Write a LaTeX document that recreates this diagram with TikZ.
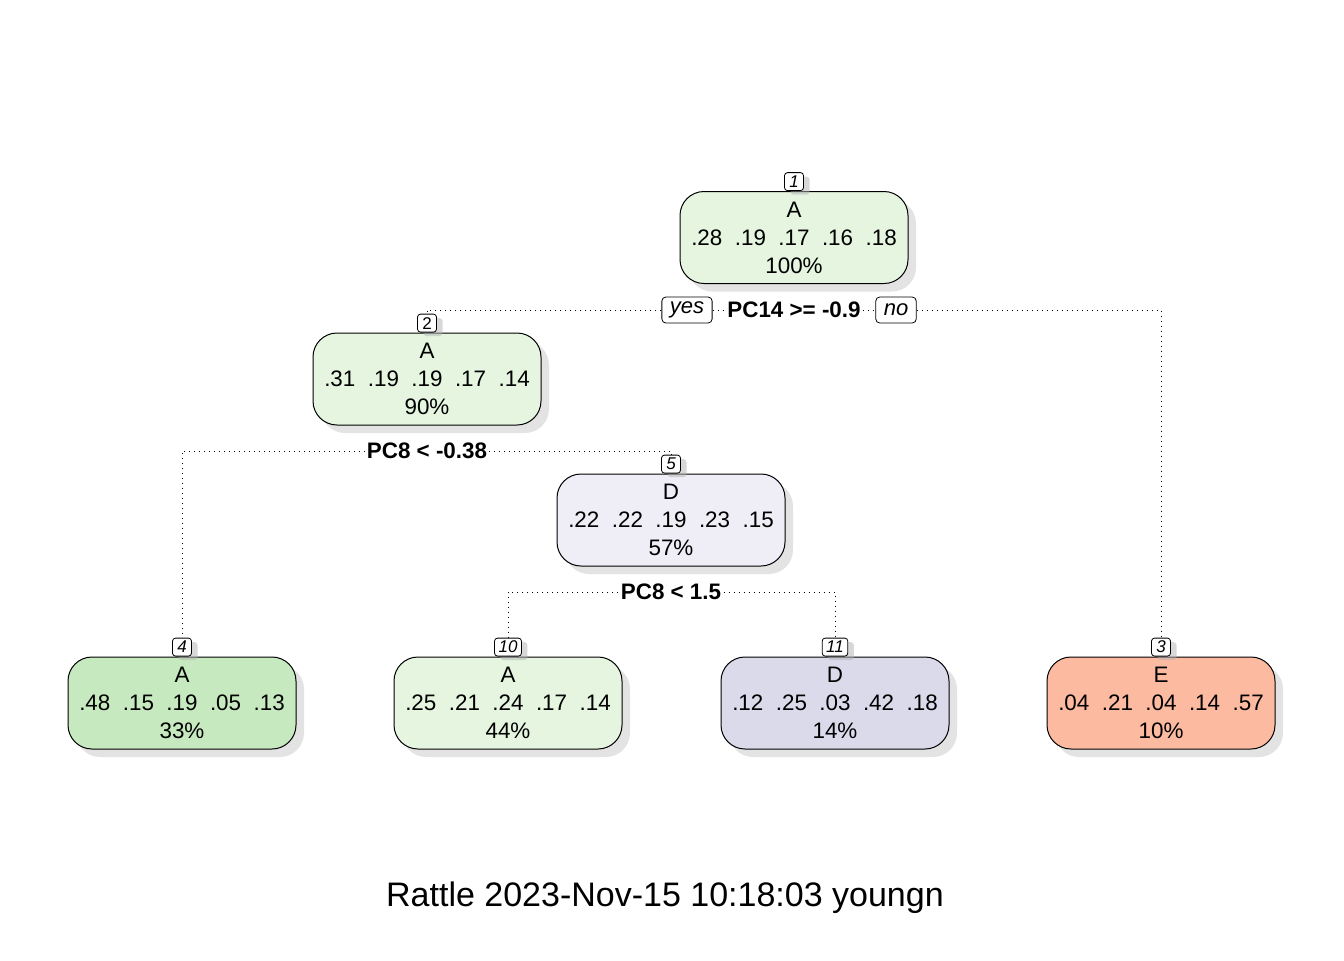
\documentclass[tikz,border=0pt]{standalone}
\usepackage{fontspec}
\setmainfont{Liberation Sans}
\usetikzlibrary{shadows}

\definecolor{grnA}{HTML}{E5F5E0}
\definecolor{grnB}{HTML}{C7E9C0}
\definecolor{purA}{HTML}{EFEDF5}
\definecolor{purB}{HTML}{DADAEB}
\definecolor{redA}{HTML}{FCBBA1}

\begin{document}
\begin{tikzpicture}[x=0.5pt,y=-0.5pt,
    leaf/.style={draw,line width=0.5pt,rounded corners=12pt,minimum width=114pt,
      minimum height=46pt,inner sep=0pt,align=center,
      font=\fontsize{11.2}{14}\selectfont,
      drop shadow={shadow xshift=4pt,shadow yshift=-4pt,fill=black!22}},
    nlabel/.style={draw,fill=white,line width=0.4pt,rounded corners=1.5pt,
      inner xsep=2pt,inner ysep=0pt,minimum height=9pt,minimum width=9.5pt,
      font=\fontsize{8.5}{9}\selectfont\itshape,anchor=south,
      drop shadow={shadow xshift=3pt,shadow yshift=-2pt,fill=black!30}},
    split/.style={font=\fontsize{11.2}{13}\selectfont\bfseries,inner sep=1pt},
    ans/.style={draw,fill=white,line width=0.4pt,rounded corners=2pt,
      inner xsep=4pt,inner ysep=0pt,minimum height=13pt,
      font=\fontsize{11}{13}\selectfont\itshape},
    edge/.style={dotted,line width=0.5pt}]
  \useasboundingbox (0,0) rectangle (1344,960);

  \node[leaf,fill=grnA] (n1) at (794,237.5) {A\\.28\ \ .19\ \ .17\ \ .16\ \ .18\\100\%};
  \node[leaf,fill=grnA] (n2) at (427,379) {A\\.31\ \ .19\ \ .19\ \ .17\ \ .14\\90\%};
  \node[leaf,fill=purA] (n5) at (671,520) {D\\.22\ \ .22\ \ .19\ \ .23\ \ .15\\57\%};
  \node[leaf,fill=grnB] (n4) at (182,703) {A\\.48\ \ .15\ \ .19\ \ .05\ \ .13\\33\%};
  \node[leaf,fill=grnA] (n10) at (508,703) {A\\.25\ \ .21\ \ .24\ \ .17\ \ .14\\44\%};
  \node[leaf,fill=purB] (n11) at (835,703) {D\\.12\ \ .25\ \ .03\ \ .42\ \ .18\\14\%};
  \node[leaf,fill=redA] (n3) at (1161,703) {E\\.04\ \ .21\ \ .04\ \ .14\ \ .57\\10\%};

  \node[nlabel] (l1) at (n1.north) {1};
  \node[nlabel,font=\fontsize{8.5}{9}\selectfont] (l2) at (n2.north) {2};
  \node[nlabel] (l5) at (n5.north) {5};
  \node[nlabel] (l4) at (n4.north) {4};
  \node[nlabel] (l10) at (n10.north) {10};
  \node[nlabel] (l11) at (n11.north) {11};
  \node[nlabel] (l3) at (n3.north) {3};

  \node[split] (s1) at (794,310) {PC14 >= -0.9};
  \node[ans] (yes) at (687,310) {yes};
  \node[ans] (no) at (896,310) {no};
  \node[split] (s2) at (427,451) {PC8 < -0.38};
  \node[split] (s5) at (671,592) {PC8 < 1.5};

  \draw[edge] (yes.west) -| (l2.north);
  \draw[edge] (yes.east) -- (s1.west);
  \draw[edge] (s1.east) -- (no.west);
  \draw[edge] (no.east) -| (l3.north);
  \draw[edge] (s2.west) -| (l4.north);
  \draw[edge] (s2.east) -| (l5.north);
  \draw[edge] (s5.west) -| (l10.north);
  \draw[edge] (s5.east) -| (l11.north);

  \node[font=\fontsize{17}{20}\selectfont] (title) at (665,898) {Rattle 2023-Nov-15 10:18:03 youngn};
\end{tikzpicture}
\end{document}
